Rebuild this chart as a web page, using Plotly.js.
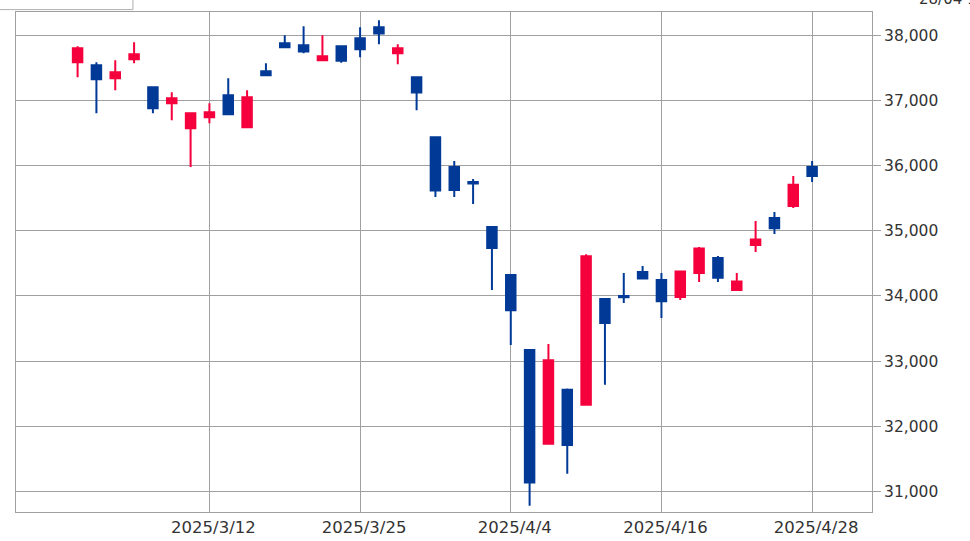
<!DOCTYPE html>
<html>
<head>
<meta charset="utf-8">
<script src="https://cdn.plot.ly/plotly-3.0.1.min.js"></script>
<style>
html,body{margin:0;padding:0;background:#fff;}
#chart{width:970px;height:541px;}
</style>
</head>
<body>
<div id="chart"></div>
<script>
var dates = ['2025-03-03','2025-03-04','2025-03-05','2025-03-06','2025-03-07',
  '2025-03-10','2025-03-11','2025-03-12','2025-03-13','2025-03-14',
  '2025-03-17','2025-03-18','2025-03-19','2025-03-21','2025-03-24',
  '2025-03-25','2025-03-26','2025-03-27','2025-03-28','2025-03-31',
  '2025-04-01','2025-04-02','2025-04-03','2025-04-04','2025-04-07',
  '2025-04-08','2025-04-09','2025-04-10','2025-04-11','2025-04-14',
  '2025-04-15','2025-04-16','2025-04-17','2025-04-18','2025-04-21',
  '2025-04-22','2025-04-23','2025-04-24','2025-04-25','2025-04-28'];
var openV  = [37586,37540,37341,37632,37203,36958,36575,36743,37080,36590,
  37448,37877,37847,37617,37831,37954,38123,37724,37356,36437,
  35977,35747,35057,34322,33172,31732,32559,32329,33954,34000,
  34368,34245,33985,34352,34582,34092,34782,35195,35379,35977];
var highV  = [37831,37586,37617,37893,37218,37126,36805,36958,37341,37157,
  37571,38000,38138,38000,37840,38123,38230,37862,37356,36437,
  36069,35793,35057,34322,33172,33264,32580,34640,33954,34352,
  34460,34352,34383,34751,34613,34352,35149,35287,35839,36069];
var lowV   = [37356,36805,37157,37571,36805,36697,35977,36651,36774,36590,
  37372,37801,37724,37617,37580,37663,37862,37556,36851,35517,
  35517,35410,34092,33249,30781,31732,31272,32329,32636,33893,
  34260,33663,33939,34214,34214,34092,34674,34950,35349,35747];
var closeV = [37801,37326,37433,37709,36881,37034,36805,36820,36789,37050,
  37387,37816,37751,37678,37608,37785,38027,37799,37120,35617,
  35624,35725,34736,33781,31136,33012,31714,34609,33585,33982,
  34267,33920,34377,34730,34280,34220,34868,35039,35705,35839];
var tickDates  = ['2025-03-12','2025-03-25','2025-04-04','2025-04-16','2025-04-28'];
var tickLabels = ['2025/3/12','2025/3/25','2025/4/4','2025/4/16','2025/4/28'];

var RED = '#f5003c', BLUE = '#003a96', GRID = '#a0a0a0';

var trace = {
  type: 'candlestick',
  x: dates, open: openV, high: highV, low: lowV, close: closeV,
  increasing: {line: {color: RED, width: 2}, fillcolor: RED},
  decreasing: {line: {color: BLUE, width: 2}, fillcolor: BLUE},
  whiskerwidth: 0,
  hoverinfo: 'none'
};

var layout = {
  width: 970, height: 541,
  margin: {l: 16, r: 98, t: 12, b: 29, pad: 0},
  paper_bgcolor: '#fff', plot_bgcolor: '#fff',
  showlegend: false,
  boxgap: 0.28,
  font: {family: 'DejaVu Sans, sans-serif', size: 15, color: '#333'},
  xaxis: {
    type: 'category',
    range: [-3.27, 42.18],
    rangeslider: {visible: false},
    tickvals: tickDates, ticktext: tickLabels,
    ticks: '', showgrid: true, gridcolor: GRID, gridwidth: 1,
    showline: true, linecolor: GRID, linewidth: 1, mirror: true,
    tickfont: {size: 16.5, color: '#333'},
    ticklabelshift: 4,
    fixedrange: true
  },
  yaxis: {
    side: 'right',
    range: [30685, 38357],
    tick0: 0, dtick: 1000, tickformat: ',d',
    ticks: 'outside', ticklen: 8, tickcolor: GRID, tickwidth: 1,
    showgrid: true, gridcolor: GRID, gridwidth: 1,
    showline: true, linecolor: GRID, linewidth: 1, mirror: true,
    zeroline: false,
    tickfont: {size: 15.5, color: '#333'},
    fixedrange: true
  },
  shapes: [{
    type: 'rect', xref: 'paper', yref: 'paper',
    x0: -0.03, x1: 0.1366, y0: 1.0048, y1: 1.06,
    line: {color: '#b0b0b0', width: 1}, fillcolor: '#fff', layer: 'above'
  }],
  annotations: [{
    xref: 'paper', yref: 'paper', x: 1.053, y: 1.0034,
    xanchor: 'left', yanchor: 'bottom', showarrow: false,
    text: '28/04 15:15', font: {size: 15, color: '#333'}
  }]
};

Plotly.newPlot('chart', [trace], layout, {displayModeBar: false, staticPlot: true});
</script>
</body>
</html>
